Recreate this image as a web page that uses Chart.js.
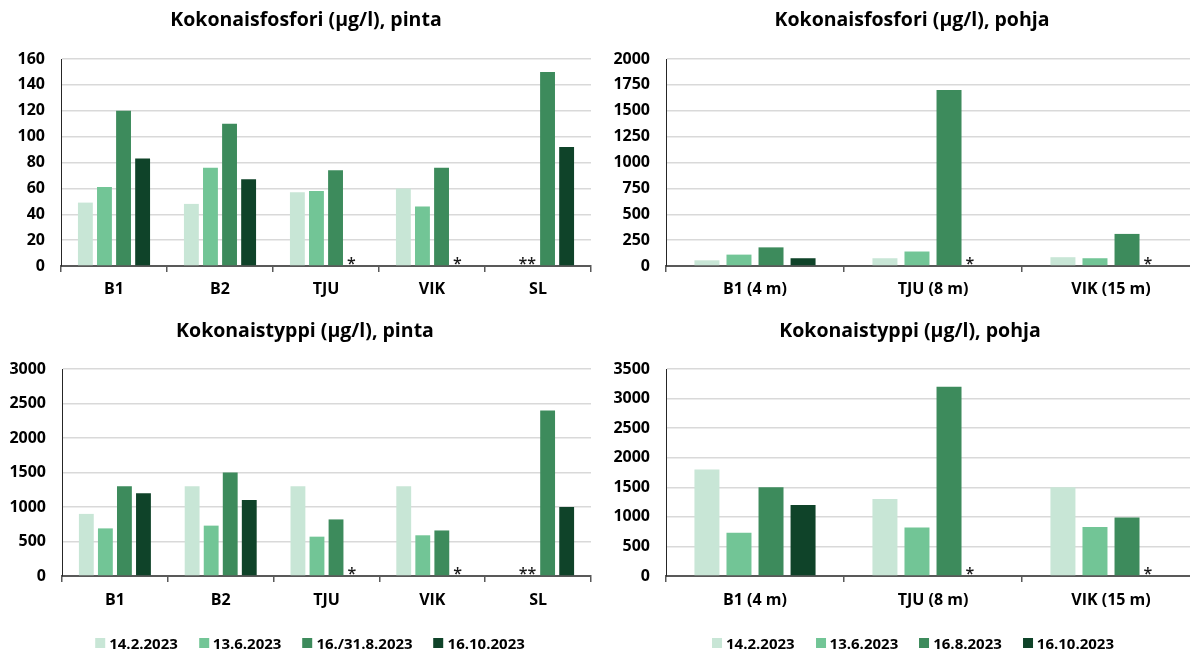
<!DOCTYPE html>
<html lang="fi">
<head>
<meta charset="utf-8">
<title>Kokonaisfosfori ja kokonaistyppi 2023</title>
<script src="https://cdn.jsdelivr.net/npm/chart.js@4.4.1/dist/chart.umd.min.js"></script>
<style>
    html, body { margin: 0; padding: 0; background: #fff; }
    body { position: relative; width: 1190px; height: 651px; overflow: hidden; font-family: "Open Sans", sans-serif; }
    .kaavio { position: absolute; }
    .selite { position: absolute; top: 633px; height: 20px; transform: translateX(-50%); display: flex; align-items: center;
              white-space: nowrap; font-weight: bold; font-size: 15px; color: #000; }
    .selite span { display: flex; align-items: center; margin-right: 21px; }
    .selite span:last-child { margin-right: 0; }
    .selite i { display: inline-block; width: 10px; height: 10px; margin-right: 4px; }
</style>
</head>
<body>
<div class="kaavio" style="left:0;top:0;width:610px;height:305px"><canvas id="fosfori_pinta"></canvas></div>
<div class="kaavio" style="left:600px;top:0;width:610px;height:305px"><canvas id="fosfori_pohja"></canvas></div>
<div class="kaavio" style="left:0;top:305px;width:610px;height:346px"><canvas id="typpi_pinta"></canvas></div>
<div class="kaavio" style="left:600px;top:305px;width:610px;height:346px"><canvas id="typpi_pohja"></canvas></div>
<div class="selite" id="selite_pinta" style="left:310px"></div>
<div class="selite" id="selite_pohja" style="left:913px"></div>

<script>
const asemat_pinta = ['B1', 'B2', 'TJU', 'VIK', 'SL']
const asemat_pohja = ['B1 (4 m)', 'TJU (8 m)', 'VIK (15 m)']

const pvm_pinta = ['14.2.2023', '13.6.2023', '16./31.8.2023', '16.10.2023']
const pvm_pohja = ['14.2.2023', '13.6.2023', '16.8.2023', '16.10.2023']

const varit = ['#c8e6d6', '#72c596', '#3d8b5c', '#0f4329']

// yksi rivi per näytteenottopäivä, null = näyte puuttuu
const fosfori_pinta = [
    [49, 48, 57, 60, null],
    [61, 76, 58, 46, null],
    [120, 110, 74, 76, 150],
    [83, 67, null, null, 92]
]
const fosfori_pohja = [
    [55, 75, 85],
    [110, 140, 75],
    [180, 1700, 310],
    [75, null, null]
]
const typpi_pinta = [
    [900, 1300, 1300, 1300, null],
    [690, 730, 570, 590, null],
    [1300, 1500, 820, 660, 2400],
    [1200, 1100, null, null, 1000]
]
const typpi_pohja = [
    [1800, 1300, 1500],
    [730, 820, 830],
    [1500, 3200, 990],
    [1200, null, null]
]

// tähdet puuttuvien näytteiden kohdalle: [asema, teksti, puoli elokuun pylvääseen nähden]
const tahdet_pinta = [['TJU', '*', 'oikea'], ['VIK', '*', 'oikea'], ['SL', '**', 'vasen']]
const tahdet_pohja = [['TJU (8 m)', '*', 'oikea'], ['VIK (15 m)', '*', 'oikea']]

const FONTTI = 'Open Sans'

/*********************************************
*   tähdet ja otsikko
**********************************************/
const tahtiPlugin = {
    id: 'tahdet',
    afterDatasetsDraw(chart, args, opts) {
        const meta = chart.getDatasetMeta(2)
        const ctx = chart.ctx
        const y = chart.scales.y.getPixelForValue(0)
        ctx.save()
        ctx.font = '600 16px "' + FONTTI + '"'
        ctx.fillStyle = '#1a1a1a'
        ctx.textBaseline = 'alphabetic'
        opts.merkit.forEach(([asema, teksti, puoli]) => {
            const i = chart.data.labels.indexOf(asema)
            const bar = meta.data[i]
            if (puoli == 'oikea') {
                ctx.textAlign = 'left'
                ctx.fillText(teksti, bar.x + bar.width / 2 + 4, y + 3)
            } else {
                ctx.textAlign = 'right'
                ctx.fillText(teksti, bar.x - bar.width / 2 - 4, y + 3)
            }
        })
        ctx.restore()
    }
}

const otsikkoPlugin = {
    id: 'otsikko',
    afterDraw(chart, args, opts) {
        const ctx = chart.ctx
        ctx.save()
        ctx.font = 'bold 19.5px "' + FONTTI + '"'
        ctx.fillStyle = '#000'
        ctx.textAlign = 'center'
        ctx.textBaseline = 'middle'
        ctx.fillText(opts.teksti, opts.x, opts.y)
        ctx.restore()
    }
}

/*********************************************
*   pylväskaavio
**********************************************/
function graficoPylvas(id, asemat, pvm, arvot, otsikko, ymax, askel, tahdet, r) {
    const ctx = document.getElementById(id).getContext('2d')

    const datasets = pvm.map((p, i) => ({
        label: p,
        data: arvot[i],
        backgroundColor: varit[i],
        borderWidth: 0
    }))

    const fontti = { family: FONTTI, size: 16, weight: 'bold' }

    const options = {
        animation: false,
        responsive: true,
        maintainAspectRatio: false,
        layout: { padding: { left: 0, right: r.oikea, top: r.yla, bottom: r.ala } },
        datasets: { bar: { categoryPercentage: 0.72, barPercentage: 0.78 } },
        scales: {
            x: {
                grid: { offset: true, drawOnChartArea: false, tickLength: 6, color: '#595959', lineWidth: 1.5 },
                border: { color: '#595959', width: 2 },
                ticks: { color: '#000', font: fontti, padding: r.xPad },
                afterFit: s => { s.height = 39 }
            },
            y: {
                min: 0,
                max: ymax,
                ticks: { stepSize: askel, color: '#000', font: fontti, padding: 16, callback: v => String(v) },
                grid: { color: '#d9d9d9', lineWidth: 1.5, drawTicks: false },
                border: { color: '#262626', width: 1 },
                afterFit: s => { s.width = r.yLeveys }
            }
        },
        plugins: {
            legend: { display: false },
            tooltip: { enabled: false },
            tahdet: { merkit: tahdet },
            otsikko: { teksti: otsikko, x: r.otsX, y: r.otsY }
        }
    }

    return new Chart(ctx, { type: 'bar', data: { labels: asemat, datasets }, options, plugins: [tahtiPlugin, otsikkoPlugin] })
}

// selite sarjojen nimistä ja väreistä
function selite(id, pvm) {
    const el = document.getElementById(id)
    pvm.forEach((p, i) => {
        const s = document.createElement('span')
        const b = document.createElement('i')
        b.style.background = varit[i]
        s.appendChild(b)
        s.appendChild(document.createTextNode(p))
        el.appendChild(s)
    })
}

graficoPylvas('fosfori_pinta', asemat_pinta, pvm_pinta, fosfori_pinta, 'Kokonaisfosfori (µg/l), pinta', 160, 20, tahdet_pinta,
    { oikea: 19, yla: 59, ala: 0, yLeveys: 61, xPad: 8, otsX: 306, otsY: 20 })

graficoPylvas('fosfori_pohja', asemat_pohja, pvm_pohja, fosfori_pohja, 'Kokonaisfosfori (µg/l), pohja', 2000, 250, tahdet_pohja,
    { oikea: 10, yla: 59, ala: 0, yLeveys: 66, xPad: 8, otsX: 312, otsY: 20 })

graficoPylvas('typpi_pinta', asemat_pinta, pvm_pinta, typpi_pinta, 'Kokonaistyppi (µg/l), pinta', 3000, 500, tahdet_pinta,
    { oikea: 19, yla: 64, ala: 36, yLeveys: 62, xPad: 9, otsX: 305, otsY: 26 })

graficoPylvas('typpi_pohja', asemat_pohja, pvm_pohja, typpi_pohja, 'Kokonaistyppi (µg/l), pohja', 3500, 500, tahdet_pohja,
    { oikea: 10, yla: 64, ala: 36, yLeveys: 66, xPad: 9, otsX: 310, otsY: 26 })

selite('selite_pinta', pvm_pinta)
selite('selite_pohja', pvm_pohja)
</script>
</body>
</html>
